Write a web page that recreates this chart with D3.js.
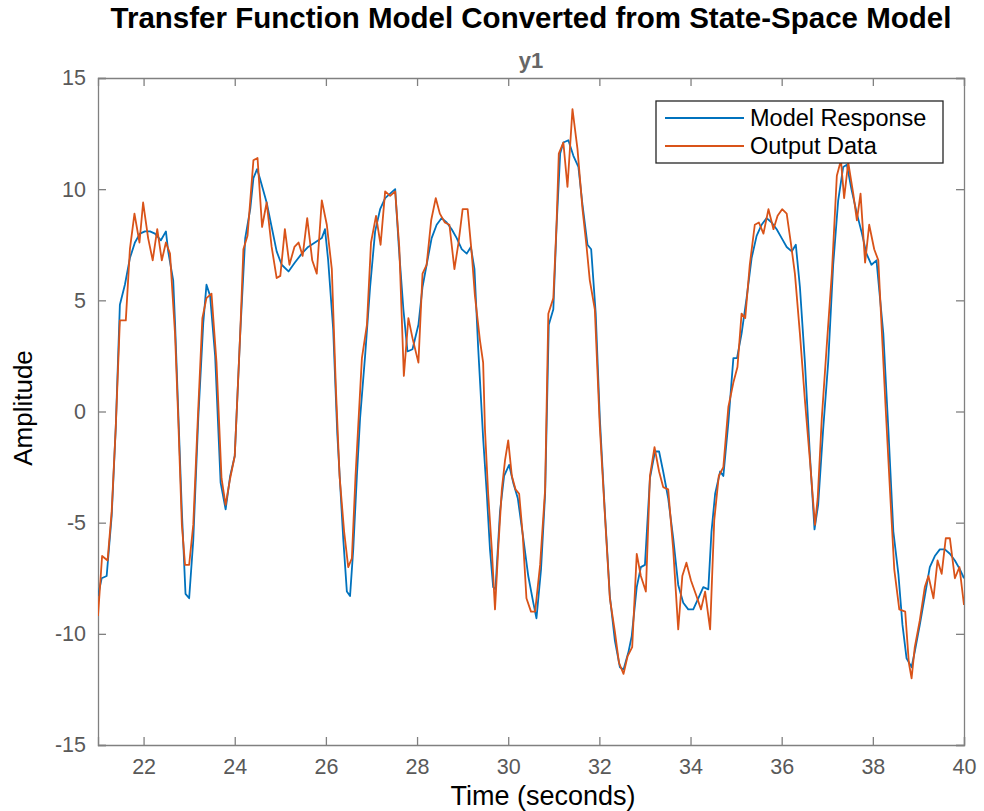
<!DOCTYPE html>
<html>
<head>
<meta charset="utf-8">
<script src="https://cdn.jsdelivr.net/npm/d3@7"></script>
<style>
  body { margin: 0; background: #fff; }
  svg { display: block; font-family: "Liberation Sans", Arial, Helvetica, sans-serif; }
</style>
</head>
<body>
<svg id="chart" width="984" height="811"></svg>
<script>
// ---- data ----
const titleText = "Transfer Function Model Converted from State-Space Model";
const subTitle = "y1";
const xLabel = "Time (seconds)";
const yLabel = "Amplitude";
const seriesNames = ["Model Response", "Output Data"];
const xTicks = [22, 24, 26, 28, 30, 32, 34, 36, 38, 40];
const yTicks = [-15, -10, -5, 0, 5, 10, 15];

const modelTime = [21.00,21.08,21.19,21.30,21.39,21.48,21.59,21.70,21.81,21.92,22.03,22.14,22.25,22.38,22.49,22.54,22.65,22.69,22.84,22.92,23.00,23.09,23.20,23.31,23.38,23.46,23.57,23.69,23.80,23.90,24.00,24.12,24.23,24.34,24.41,24.49,24.55,24.70,24.81,24.92,25.03,25.18,25.32,25.47,25.61,25.76,25.91,25.98,26.05,26.16,26.25,26.38,26.46,26.53,26.60,26.68,26.75,26.86,26.97,27.08,27.19,27.30,27.41,27.52,27.60,27.70,27.79,27.90,28.03,28.12,28.21,28.32,28.43,28.54,28.65,28.76,28.87,28.98,29.09,29.18,29.26,29.34,29.45,29.53,29.60,29.67,29.72,29.82,29.91,30.02,30.11,30.21,30.33,30.44,30.55,30.62,30.72,30.81,30.89,30.99,31.06,31.14,31.21,31.32,31.43,31.54,31.63,31.74,31.82,31.92,32.01,32.12,32.23,32.34,32.45,32.53,32.64,32.71,32.82,32.91,33.00,33.11,33.22,33.31,33.40,33.51,33.62,33.73,33.84,33.95,34.06,34.17,34.28,34.39,34.46,34.54,34.65,34.72,34.83,34.94,35.02,35.12,35.23,35.34,35.45,35.56,35.67,35.78,35.89,36.00,36.11,36.22,36.31,36.40,36.51,36.62,36.72,36.80,36.91,37.02,37.13,37.24,37.35,37.43,37.53,37.65,37.75,37.86,37.97,38.08,38.23,38.34,38.45,38.56,38.65,38.74,38.85,38.92,39.03,39.14,39.25,39.36,39.47,39.58,39.69,39.80,39.91,40.00];
const modelResponse = [-8.3,-7.5,-7.4,-4.7,-0.7,4.8,5.7,6.9,7.6,8.0,8.1,8.1,8.0,7.7,8.1,7.2,5.9,4.0,-4.5,-8.2,-8.4,-5.8,-0.3,4.0,5.7,5.2,2.5,-3.2,-4.4,-2.9,-2.0,3.5,7.8,9.1,10.5,10.9,10.5,9.4,8.3,7.2,6.6,6.3,6.7,7.1,7.4,7.6,7.8,8.2,6.8,3.7,-1.0,-5.7,-8.1,-8.3,-6.2,-2.9,-0.3,2.5,5.6,8.1,9.1,9.6,9.8,10.0,7.4,4.6,2.7,2.8,3.9,5.6,6.6,7.8,8.4,8.7,8.5,8.2,7.8,7.3,7.1,7.4,6.4,2.9,-1.2,-3.7,-6.2,-7.9,-8.0,-4.5,-2.9,-2.4,-3.2,-3.9,-5.7,-7.4,-8.6,-9.3,-7.1,-3.7,3.9,4.6,8.3,11.6,12.1,12.2,11.5,11.0,9.3,7.5,7.3,4.4,-0.3,-4.5,-8.3,-10.3,-11.5,-11.6,-10.8,-10.1,-7.9,-7.0,-6.9,-3.0,-1.8,-1.8,-2.7,-3.9,-5.7,-7.8,-8.6,-8.9,-8.9,-8.4,-7.9,-8.0,-5.4,-3.7,-2.7,-2.9,-0.5,2.4,2.4,3.5,5.1,6.9,7.9,8.4,8.7,8.5,8.2,7.8,7.4,7.2,7.5,5.6,2.2,-2.0,-5.3,-4.2,-0.8,2.2,6.6,9.5,11.0,11.1,10.0,8.9,8.1,7.1,6.6,6.8,3.5,-0.8,-5.4,-7.3,-9.6,-11.1,-11.5,-10.8,-9.6,-8.3,-7.0,-6.5,-6.2,-6.2,-6.4,-6.7,-7.1,-7.5];

const outputTime = [21.00,21.09,21.21,21.30,21.39,21.48,21.61,21.70,21.80,21.91,21.99,22.10,22.20,22.30,22.40,22.49,22.58,22.69,22.76,22.84,22.91,23.00,23.09,23.19,23.29,23.38,23.49,23.60,23.71,23.80,23.90,24.00,24.12,24.19,24.28,24.41,24.50,24.60,24.70,24.81,24.92,25.00,25.10,25.20,25.31,25.40,25.49,25.59,25.70,25.80,25.91,26.02,26.13,26.22,26.30,26.40,26.49,26.57,26.65,26.79,26.90,26.99,27.10,27.20,27.30,27.41,27.52,27.61,27.71,27.81,27.90,28.03,28.12,28.21,28.31,28.41,28.50,28.61,28.71,28.82,28.91,29.00,29.11,29.20,29.27,29.38,29.45,29.49,29.56,29.64,29.71,29.78,29.86,29.93,30.00,30.08,30.16,30.24,30.32,30.40,30.50,30.59,30.70,30.81,30.88,30.99,31.06,31.11,31.21,31.30,31.41,31.52,31.63,31.72,31.79,31.90,32.01,32.12,32.23,32.34,32.43,32.53,32.62,32.72,32.82,32.91,33.02,33.11,33.21,33.31,33.40,33.51,33.62,33.73,33.82,33.91,34.01,34.13,34.23,34.32,34.43,34.52,34.62,34.72,34.83,34.94,35.03,35.12,35.20,35.30,35.41,35.50,35.60,35.71,35.82,35.91,36.01,36.11,36.20,36.29,36.40,36.51,36.62,36.73,36.79,36.88,36.99,37.10,37.21,37.30,37.37,37.46,37.57,37.65,37.73,37.83,37.92,38.03,38.12,38.19,38.28,38.38,38.47,38.58,38.71,38.79,38.85,38.92,39.03,39.14,39.22,39.33,39.42,39.51,39.60,39.69,39.80,39.90,40.00];
const outputData = [-9.2,-6.5,-6.7,-4.5,-0.7,4.1,4.1,7.3,8.9,7.6,9.4,7.8,6.8,8.2,6.8,7.6,7.1,3.5,-0.3,-5.1,-6.9,-6.9,-5.1,-0.3,4.2,5.1,5.3,2.2,-3.0,-4.2,-3.0,-2.0,3.5,7.3,7.9,11.3,11.4,8.3,9.4,7.4,6.0,6.1,8.2,6.6,7.4,7.6,7.0,8.7,6.8,6.2,9.5,8.4,6.4,1.0,-2.9,-5.4,-7.0,-6.6,-2.9,2.4,3.9,7.6,8.8,7.5,9.9,9.7,9.9,7.4,1.6,4.2,3.3,2.2,6.2,6.6,8.6,9.6,8.9,8.5,8.4,6.4,7.6,9.1,9.1,7.1,5.2,3.2,2.2,-0.8,-3.7,-6.2,-8.9,-6.2,-3.5,-2.2,-1.3,-2.9,-3.5,-3.7,-5.6,-8.4,-9.0,-9.0,-6.9,-3.5,4.4,5.1,8.4,11.6,12.1,10.1,13.6,11.8,9.1,7.4,5.9,4.6,-0.7,-4.6,-8.4,-9.9,-11.3,-11.8,-11.0,-10.6,-6.4,-7.4,-8.1,-2.9,-1.6,-2.7,-3.4,-3.5,-6.2,-9.8,-7.4,-6.8,-7.6,-8.3,-8.9,-8.1,-9.8,-4.9,-2.9,-2.5,0.2,1.3,2.0,4.4,4.2,6.6,8.4,8.5,8.0,9.1,8.2,8.8,9.1,8.9,7.6,6.2,3.5,0.5,-2.2,-5.1,-3.9,-0.3,3.0,6.2,10.6,11.3,9.6,11.2,9.8,8.6,9.8,6.7,8.4,7.3,6.8,3.9,0.2,-3.7,-7.1,-8.9,-9.0,-11.3,-12.0,-10.6,-9.4,-7.9,-7.4,-8.4,-6.7,-7.3,-5.7,-5.7,-7.5,-7.0,-8.7];

const colors = ["#0072BD", "#D95319"];

// ---- layout ----
const svg = d3.select("#chart");
const m = { left: 98, right: 964, top: 78, bottom: 745 };
const x = d3.scaleLinear().domain([21, 40]).range([m.left, m.right]);
const y = d3.scaleLinear().domain([-15, 15]).range([m.bottom, m.top]);

const axisColor = "#808080";
const tickTextColor = "#595959";
const tickLen = 8;

svg.append("defs").append("clipPath").attr("id", "clip")
  .append("rect").attr("x", m.left).attr("y", m.top)
  .attr("width", m.right - m.left).attr("height", m.bottom - m.top);

// axes (inner ticks, mirrored)
const gx = svg.append("g").attr("transform", `translate(0,${m.bottom})`)
  .call(d3.axisBottom(x).tickValues(xTicks).tickSize(-tickLen).tickPadding(14).tickFormat(d3.format("d")));
const gxTop = svg.append("g").attr("transform", `translate(0,${m.top})`)
  .call(d3.axisTop(x).tickValues(xTicks).tickSize(-tickLen).tickFormat(""));
const gy = svg.append("g").attr("transform", `translate(${m.left},0)`)
  .call(d3.axisLeft(y).tickValues(yTicks).tickSize(-tickLen).tickPadding(12).tickFormat(d3.format("d")));
const gyR = svg.append("g").attr("transform", `translate(${m.right},0)`)
  .call(d3.axisRight(y).tickValues(yTicks).tickSize(-tickLen).tickFormat(""));

[gx, gxTop, gy, gyR].forEach(g => {
  g.select(".domain").attr("stroke", axisColor).attr("stroke-width", 1.3);
  g.selectAll(".tick line").attr("stroke", axisColor).attr("stroke-width", 1.3);
  g.selectAll(".tick text").attr("fill", tickTextColor)
    .style("font-size", "21.5px").style("font-family", "'Liberation Sans', Arial, sans-serif");
});
gy.selectAll(".tick text").text(d => d < 0 ? "-" + Math.abs(d) : d);

// lines
const lineGen = (tArr) => d3.line().x((d, i) => x(tArr[i])).y(d => y(d));
const plot = svg.append("g").attr("clip-path", "url(#clip)");
plot.append("path").datum(modelResponse)
  .attr("fill", "none").attr("stroke", colors[0]).attr("stroke-width", 1.8)
  .attr("stroke-linejoin", "round").attr("d", lineGen(modelTime));
plot.append("path").datum(outputData)
  .attr("fill", "none").attr("stroke", colors[1]).attr("stroke-width", 1.8)
  .attr("stroke-linejoin", "round").attr("d", lineGen(outputTime));

// titles
const cx = (m.left + m.right) / 2;
svg.append("text").attr("x", cx).attr("y", 28).attr("text-anchor", "middle")
  .style("font-size", "29.5px").style("font-weight", "bold").attr("fill", "#000")
  .text(titleText);
svg.append("text").attr("x", cx).attr("y", 68).attr("text-anchor", "middle")
  .style("font-size", "22px").style("font-weight", "bold").attr("fill", "#666")
  .text(subTitle);
svg.append("text").attr("x", 543).attr("y", 805).attr("text-anchor", "middle")
  .style("font-size", "27px").attr("fill", "#000").text(xLabel);
svg.append("text").attr("transform", "translate(32,408) rotate(-90)").attr("text-anchor", "middle")
  .style("font-size", "26px").attr("fill", "#000").text(yLabel);

// legend
const lg = svg.append("g");
lg.append("rect").attr("x", 656).attr("y", 101).attr("width", 287).attr("height", 62)
  .attr("fill", "#fff").attr("stroke", "#262626").attr("stroke-width", 1.3);
seriesNames.forEach((name, i) => {
  const yy = 118 + i * 28;
  lg.append("line").attr("x1", 665).attr("x2", 744).attr("y1", yy).attr("y2", yy)
    .attr("stroke", colors[i]).attr("stroke-width", 1.8);
  lg.append("text").attr("x", 750).attr("y", yy).attr("dy", "0.35em")
    .style("font-size", "23.5px").attr("fill", "#000").text(name);
});
</script>
</body>
</html>
